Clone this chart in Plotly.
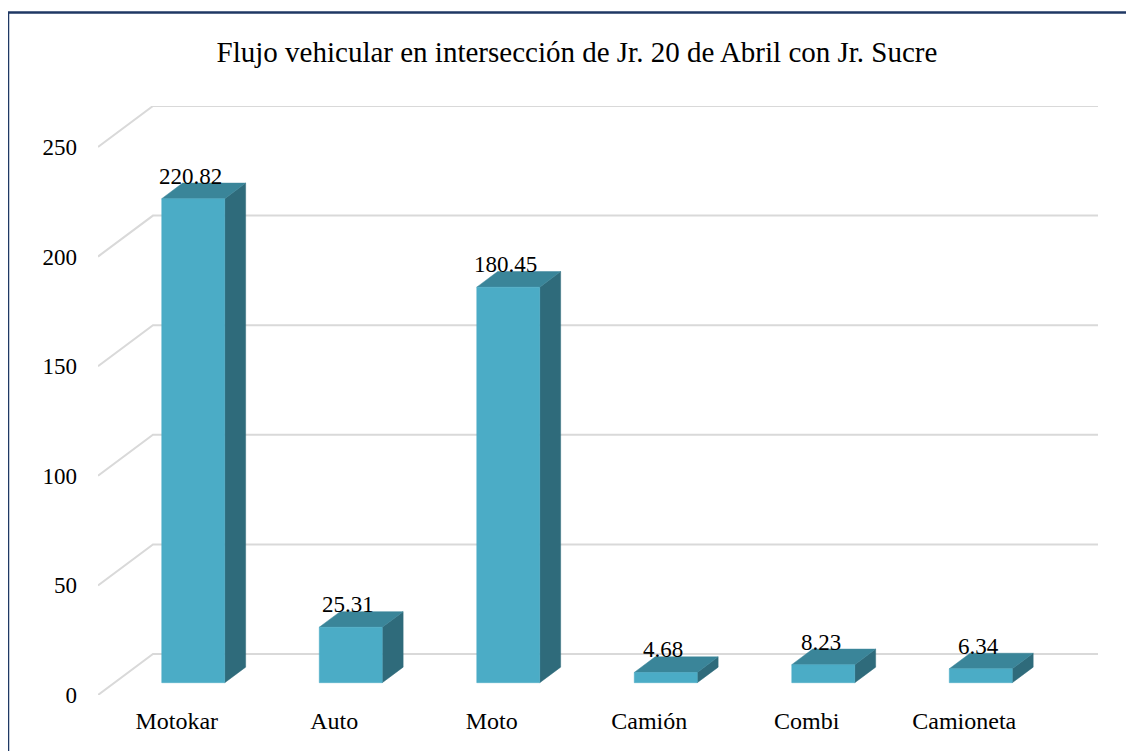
import plotly.graph_objects as go

categories = ["Motokar", "Auto", "Moto", "Camión", "Combi", "Camioneta"]
values = [220.82, 25.31, 180.45, 4.68, 8.23, 6.34]
y_ticks = [0, 50, 100, 150, 200, 250]
title_text = "Flujo vehicular en intersección de Jr. 20 de Abril con Jr. Sucre"

FONT = "Liberation Serif"
FRONT = "#4BACC6"
SIDE = "#2F6B7B"
TOP = "#3A8599"
GRID = "#D9D9D9"

# depth of the "3d" floor, in axis units (x: category units, y: value units)
DEPTH_X = 0.349
DEPTH_Y = 18.7
T_FRONT = 0.30  # depth where the bar front face sits
T_BACK = 0.68   # depth where the bar back face sits
HALF_W = 0.2

x_min, x_max = -0.5, len(categories) - 0.5

fig = go.Figure()

# gridlines: diagonal on the left wall, then horizontal along the back wall
for v in y_ticks:
    fig.add_trace(
        go.Scatter(
            x=[x_min, x_min + DEPTH_X, x_max + DEPTH_X],
            y=[v, v + DEPTH_Y, v + DEPTH_Y],
            mode="lines",
            line=dict(color=GRID, width=2),
            hoverinfo="skip",
            showlegend=False,
        )
    )

dx = (T_BACK - T_FRONT) * DEPTH_X
dy = (T_BACK - T_FRONT) * DEPTH_Y
base = T_FRONT * DEPTH_Y

for i, v in enumerate(values):
    xc = i + T_FRONT * DEPTH_X
    xl, xr = xc - HALF_W, xc + HALF_W
    top = base + v
    # side face
    fig.add_trace(
        go.Scatter(
            x=[xr, xr + dx, xr + dx, xr, xr],
            y=[base, base + dy, top + dy, top, base],
            fill="toself",
            fillcolor=SIDE,
            mode="lines",
            line=dict(color=SIDE, width=0.5),
            hoverinfo="skip",
            showlegend=False,
        )
    )
    # top face
    fig.add_trace(
        go.Scatter(
            x=[xl, xr, xr + dx, xl + dx, xl],
            y=[top, top, top + dy, top + dy, top],
            fill="toself",
            fillcolor=TOP,
            mode="lines",
            line=dict(color=TOP, width=0.5),
            hoverinfo="skip",
            showlegend=False,
        )
    )
    # front face
    fig.add_trace(
        go.Scatter(
            x=[xl, xr, xr, xl, xl],
            y=[base, base, top, top, base],
            fill="toself",
            fillcolor=FRONT,
            mode="lines",
            line=dict(color=FRONT, width=0.5),
            hoverinfo="skip",
            showlegend=False,
        )
    )
    fig.add_annotation(
        x=xc - 0.015,
        y=top,
        text=f"{v:.2f}",
        showarrow=False,
        yanchor="bottom",
        yshift=8,
        font=dict(family=FONT, size=23, color="black"),
    )

# navy frame round the chart
fig.add_shape(
    type="rect",
    xref="paper",
    yref="paper",
    x0=-0.09,
    x1=1.2,
    y0=-0.3,
    y1=1.1587,
    line=dict(color="#1F3864", width=2.5),
    layer="below",
)

fig.update_layout(
    width=1134,
    height=751,
    margin=dict(l=90, r=44, t=98, b=64),
    paper_bgcolor="white",
    plot_bgcolor="white",
    showlegend=False,
    title=dict(
        text=title_text,
        x=569 / 1134,
        xanchor="center",
        y=1 - 44 / 751,
        yanchor="middle",
        font=dict(family=FONT, size=29, color="black"),
    ),
    xaxis=dict(
        range=[x_min, x_max + DEPTH_X],
        tickvals=list(range(len(categories))),
        ticktext=categories,
        showgrid=False,
        zeroline=False,
        showline=False,
        ticks="",
        ticklabelstandoff=9,
        tickfont=dict(family=FONT, size=24, color="black"),
        fixedrange=True,
    ),
    yaxis=dict(
        range=[0, 250 + DEPTH_Y],
        tickvals=y_ticks,
        showgrid=False,
        zeroline=False,
        showline=False,
        ticks="",
        ticklabelstandoff=20,
        tickfont=dict(family=FONT, size=23, color="black"),
        fixedrange=True,
    ),
)

fig.write_html("out.html")
